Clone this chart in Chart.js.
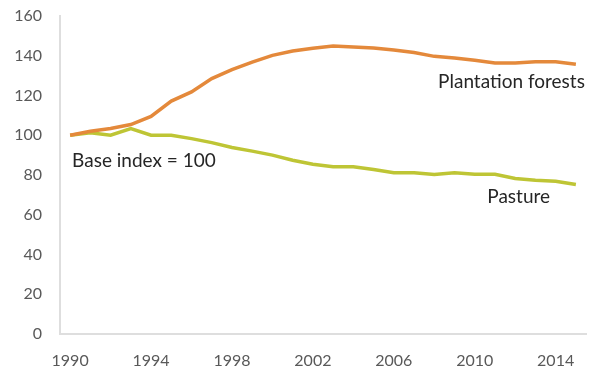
<!DOCTYPE html>
<html>
<head>
<meta charset="utf-8">
<script src="https://cdn.jsdelivr.net/npm/chart.js@4"></script>
<style>
  html, body { margin: 0; padding: 0; background: #fff; }
  #wrap { width: 593px; height: 372px; }
</style>
</head>
<body>
<div id="wrap"><canvas id="land-use"></canvas></div>
<script>
// years 1990 - 2015, index 1990 = 100
var years = ['1990', '1991', '1992', '1993', '1994', '1995', '1996', '1997', '1998', '1999', '2000', '2001', '2002',
             '2003', '2004', '2005', '2006', '2007', '2008', '2009', '2010', '2011', '2012', '2013', '2014', '2015'];
var plantation = [100, 102, 103.4, 105.4, 109.5, 117.2, 121.8, 128.5, 133, 136.8, 140.2, 142.4, 143.8,
                  144.9, 144.4, 143.9, 142.9, 141.6, 139.7, 138.9, 137.7, 136.4, 136.4, 137, 137, 135.7];
var pasture = [100, 101.2, 100, 103.4, 100, 100, 98.3, 96.3, 93.8, 92, 90, 87.4, 85.4,
               84.1, 84.1, 82.8, 81.1, 81.1, 80.2, 81.1, 80.4, 80.4, 78.2, 77.4, 76.9, 75.2];
var shownYears = ['1990', '1994', '1998', '2002', '2006', '2010', '2014'];

var textFont = 'Lato, "Open Sans", sans-serif';

// labels written on the plot, placed in data space
var notes = [
    { text: 'Base index = 100', at: 0, dx: 2, value: 87.2, align: 'left' },
    { text: 'Plantation forests', at: 25, dx: 9, value: 126.8, align: 'right' },
    { text: 'Pasture', at: 22, dx: 3.5, value: 68.8, align: 'center' }
];

var notesPlugin = {
    id: 'notes',
    afterDatasetsDraw: function (chart) {
        var ctx = chart.ctx;
        var x = chart.scales.x, y = chart.scales.y;
        ctx.save();
        ctx.font = '19px ' + textFont;
        ctx.fillStyle = '#262626';
        ctx.textBaseline = 'middle';
        notes.forEach(function (n) {
            ctx.textAlign = n.align;
            ctx.fillText(n.text, x.getPixelForValue(n.at) + n.dx, y.getPixelForValue(n.value));
        });
        ctx.restore();
    }
};

var landUse = document.getElementById('land-use').getContext('2d');
var landUseChart = new Chart(landUse, {
    type: 'line',
    data: {
        labels: years,
        datasets: [{
            label: 'Plantation forests',
            data: plantation,
            borderColor: '#e4893b',
            borderWidth: 3.5,
            pointRadius: 0,
            tension: 0,
            fill: false
        }, {
            label: 'Pasture',
            data: pasture,
            borderColor: '#bec535',
            borderWidth: 3.5,
            pointRadius: 0,
            tension: 0,
            fill: false
        }]
    },
    options: {
        responsive: true,
        maintainAspectRatio: false,
        animation: false,
        layout: {
            padding: { top: 16, right: 6, bottom: 0, left: 0 }
        },
        plugins: {
            legend: { display: false },
            tooltip: { enabled: false }
        },
        scales: {
            x: {
                offset: true,
                grid: { display: false, drawTicks: false },
                border: { display: true, color: '#dedede', width: 2 },
                ticks: {
                    autoSkip: false,
                    maxRotation: 0,
                    padding: 17,
                    color: '#595959',
                    font: { family: textFont, size: 16 },
                    callback: function (value) {
                        var lab = this.getLabelForValue(value);
                        return shownYears.indexOf(lab) >= 0 ? lab : '';
                    }
                },
                afterFit: function (scale) { scale.height = 38; }
            },
            y: {
                min: 0,
                max: 160,
                grid: { display: false, drawTicks: false },
                border: { display: true, color: '#dedede', width: 2 },
                ticks: {
                    stepSize: 20,
                    padding: 18,
                    color: '#595959',
                    font: { family: textFont, size: 16 }
                },
                afterFit: function (scale) {
                    scale.width = 60;
                    scale.paddingTop = 8;
                    scale.paddingBottom = 8;
                }
            }
        }
    },
    plugins: [notesPlugin]
});
</script>
</body>
</html>
